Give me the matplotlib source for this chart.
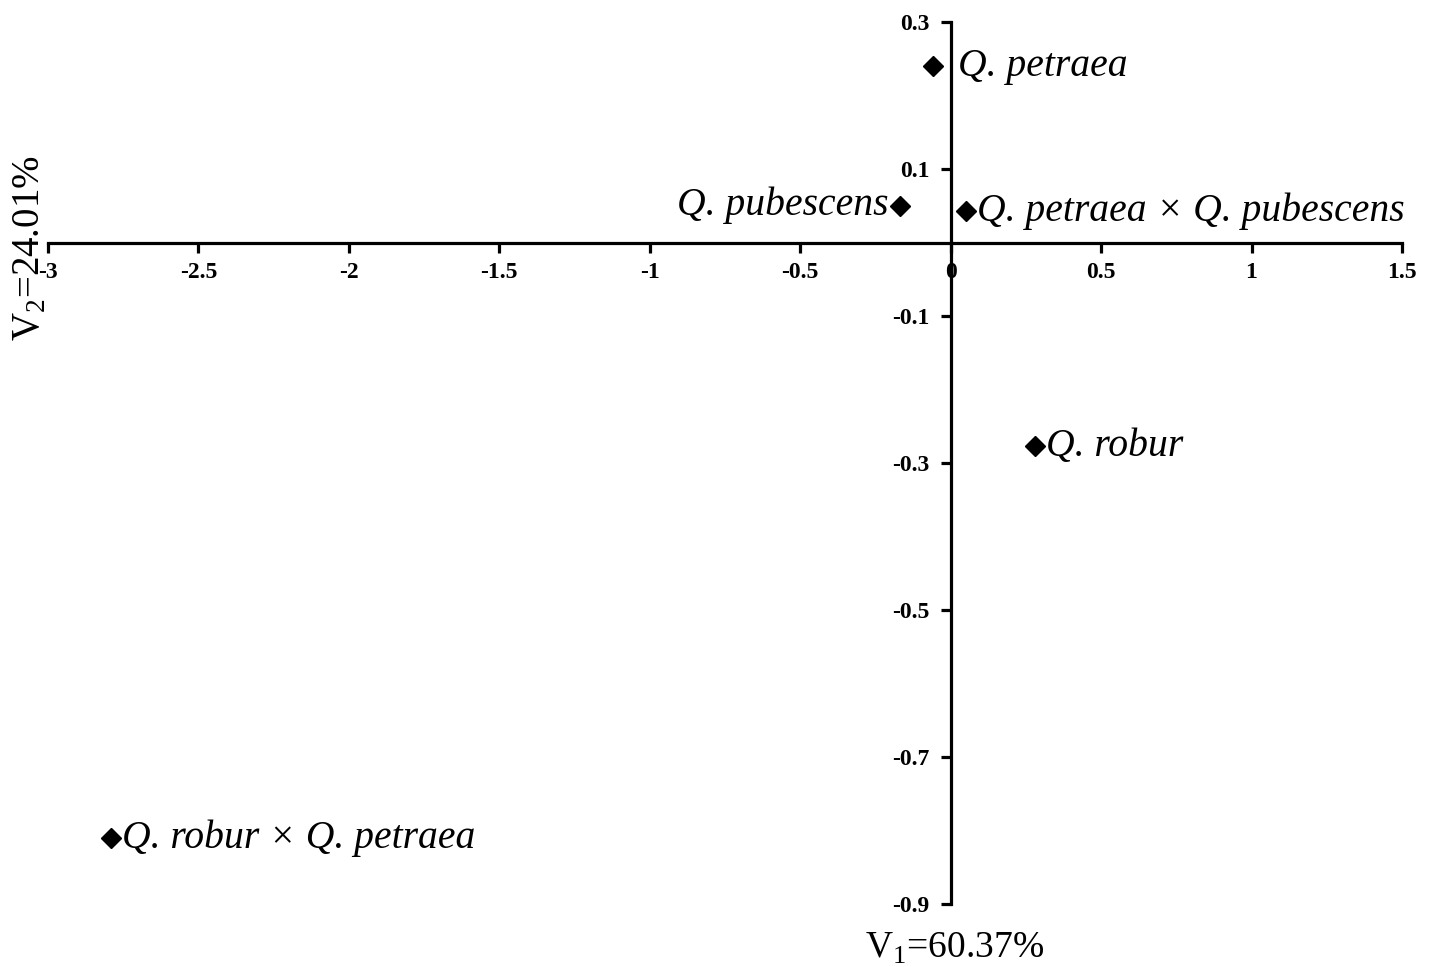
import matplotlib
matplotlib.use("Agg")
import matplotlib.pyplot as plt

names = ["Q. petraea", "Q. pubescens", "Q. petraea × Q. pubescens", "Q. robur", "Q. robur × Q. petraea"]
v1 = [-0.06, -0.17, 0.05, 0.28, -2.79]
v2 = [0.24, 0.05, 0.043, -0.277, -0.81]
label_side = ["right", "left", "right", "right", "right"]
xticks = [-3, -2.5, -2, -1.5, -1, -0.5, 0, 0.5, 1, 1.5]
xticklabels = ["-3", "-2.5", "-2", "-1.5", "-1", "-0.5", "0", "0.5", "1", "1.5"]
yticks = [0.3, 0.1, -0.1, -0.3, -0.5, -0.7, -0.9]
yticklabels = ["0.3", "0.1", "-0.1", "-0.3", "-0.5", "-0.7", "-0.9"]

plt.rcParams['font.family'] = ['Liberation Serif', 'DejaVu Serif']
plt.rcParams['mathtext.fontset'] = 'custom'
plt.rcParams['mathtext.rm'] = 'Liberation Serif'

fig = plt.figure(figsize=(14.34, 9.67), dpi=100)
ax = fig.add_axes([48/1434, 1-904/967, 1354/1434, 882/967])
ax.set_xlim(-3, 1.5)
ax.set_ylim(-0.9, 0.3)

for s in ["top", "right"]:
    ax.spines[s].set_visible(False)
ax.spines["left"].set_position(("data", 0))
ax.spines["bottom"].set_position(("data", 0))
for s in ["left", "bottom"]:
    ax.spines[s].set_linewidth(2.3)
    ax.spines[s].set_color("black")

ax.set_xticks(xticks)
ax.set_xticklabels(xticklabels, fontweight="bold", fontsize=17)
ax.set_yticks(yticks)
ax.set_yticklabels(yticklabels, fontweight="bold", fontsize=17)
ax.tick_params(axis="x", direction="out", length=7, width=2.3, pad=7)
ax.tick_params(axis="y", direction="out", length=7, width=2.3, pad=8)

ax.plot(v1, v2, linestyle="none", marker="D", markersize=10, color="black", clip_on=False)
offsets = [18, -8, 8, 8, 8]
for x, y, n, side, off in zip(v1, v2, names, label_side, offsets):
    ax.annotate(n, (x, y), xytext=(off, 0), textcoords="offset points",
                ha="left" if side == "right" else "right", va="center",
                fontsize=28.5, style="italic")

fig.text(955/1434, 1-948/967, r"V$_1$=60.37%", ha="center", va="center", fontsize=27)
fig.text(30/1434, 1-248/967, r"V$_2$=24.01%", ha="center", va="center", fontsize=28, rotation=90)

fig.savefig("out.png", dpi=100, facecolor="white")
